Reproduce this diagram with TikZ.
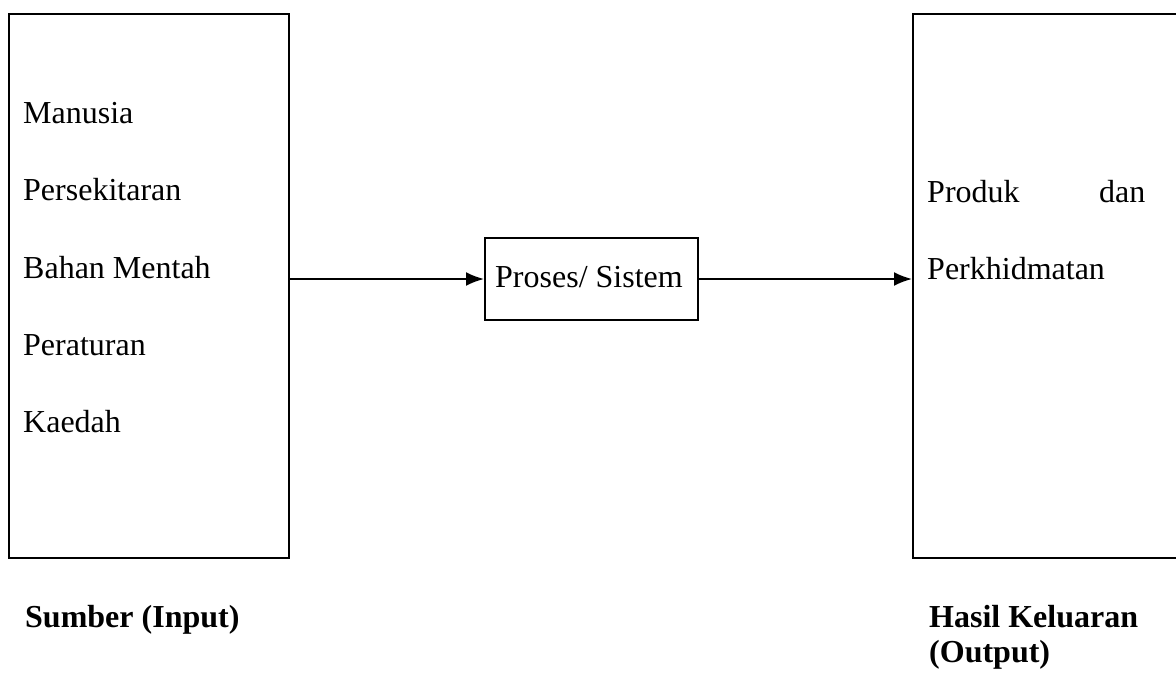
\documentclass[tikz,border=0pt]{standalone}
\usepackage{fontspec}
\setmainfont{Liberation Serif}
\usetikzlibrary{arrows.meta}
\begin{document}
\begin{tikzpicture}[x=1pt,y=-1pt,
  frame/.style={draw, line width=2pt, inner sep=0pt, anchor=north west},
  item/.style={anchor=base west, inner sep=0pt, font=\fontsize{32}{38}\selectfont},
  caption/.style={anchor=base west, inner sep=0pt, font=\fontsize{32}{38}\selectfont\bfseries},
  flow/.style={line width=2pt, -{Latex[length=18pt,width=14pt]}}]
\useasboundingbox (0,0) rectangle (1176,673);
\clip (0,0) rectangle (1176,673);
\fill[white] (0,0) rectangle (1176,673);

% input, process and output boxes
\node[frame, minimum width=280pt, minimum height=544pt] (src) at (8,13) {};
\node[frame, minimum width=213pt, minimum height=82pt] (proc) at (484,237) {};
\node[frame, minimum width=290pt, minimum height=544pt] (out) at (912,13) {};

% input items
\node[item] (i1) at (23,123) {Manusia};
\node[item] (i2) at (23,200) {Persekitaran};
\node[item] (i3) at (23,278) {Bahan Mentah};
\node[item] (i4) at (23,355) {Peraturan};
\node[item] (i5) at (23,432) {Kaedah};

% process label
\node[item] (pl) at (495,287) {Proses/ Sistem};

% output items
\node[item] (o1) at (927,202) {Produk};
\node[item] (o2) at (1099,202) {dan};
\node[item] (o3) at (927,279) {Perkhidmatan};

% captions under the boxes
\node[caption] (c1) at (25,627) {Sumber (Input)};
\node[caption] (c2) at (929,627) {Hasil Keluaran};
\node[caption] (c3) at (929,662) {(Output)};

% flow arrows
\draw[flow] (proc.west -| src.east) -- (proc.west);
\draw[flow] (proc.east) -- (proc.east -| out.west);
\end{tikzpicture}
\end{document}
